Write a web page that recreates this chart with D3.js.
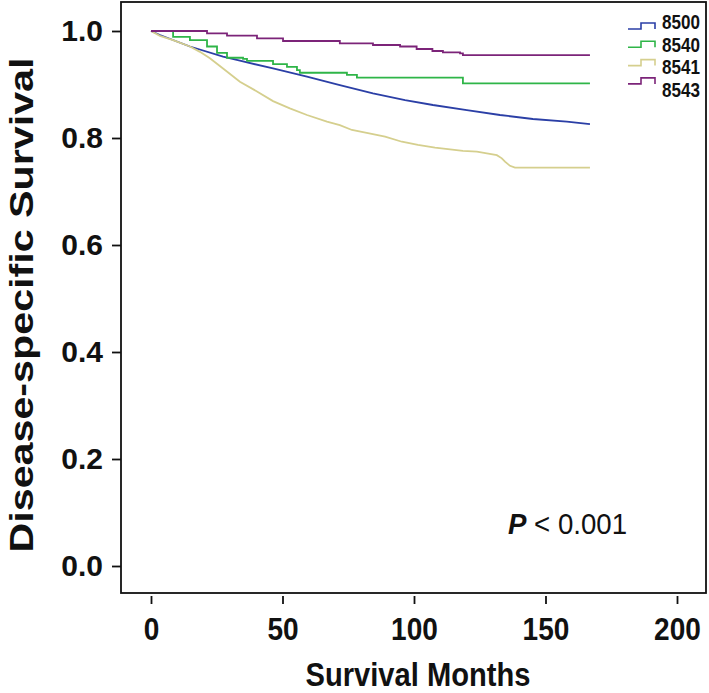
<!DOCTYPE html>
<html><head><meta charset="utf-8">
<script src="https://cdn.jsdelivr.net/npm/d3@7"></script>
<style>body{margin:0;background:#fff}svg{display:block}text{font-family:"Liberation Sans",Arial,sans-serif}</style>
</head><body>
<svg id="c" width="709" height="693"></svg>
<script>
// ---- data ----
const seriesNames = ["8500", "8540", "8541", "8543"];
const seriesColors = ["#2b3fa6", "#2fb548", "#d5cf8e", "#7c2479"];
const months8500 = [0, 3.4, 14.8, 27.4, 33.8, 46.4, 59.3, 71.8, 84.4, 96.6, 107.2, 120.1, 132.7, 145.2, 158.1, 166.9];
const surv8500   = [1.0, 0.9925, 0.971, 0.952, 0.9445, 0.930, 0.9146, 0.899, 0.8836, 0.871, 0.8617, 0.852, 0.843, 0.8355, 0.8305, 0.826];
const months8540 = [0, 8.4, 14.8, 21.3, 25.1, 28.9, 35.0, 36.5, 46.4, 51.7, 55.5, 56.6, 74.5, 78.3, 118.6, 166.9];
const surv8540   = [1.0, 0.989, 0.983, 0.971, 0.959, 0.950, 0.948, 0.944, 0.938, 0.933, 0.927, 0.922, 0.918, 0.913, 0.902, 0.902];
const months8541 = [0, 3.4, 8.4, 14.8, 18.6, 22.4, 27.4, 33.8, 40.3, 46.4, 52.8, 59.3, 66.9, 71.8, 76.4, 82.5, 89, 95.4, 101.5, 108, 118.6, 123.9, 127.7, 131.5, 133.4, 134.6, 136.5, 138.4, 166.9];
const surv8541   = [1.0, 0.991, 0.983, 0.971, 0.961, 0.949, 0.930, 0.905, 0.887, 0.869, 0.8555, 0.843, 0.8305, 0.824, 0.815, 0.809, 0.8025, 0.793, 0.787, 0.782, 0.776, 0.7744, 0.7714, 0.768, 0.762, 0.7557, 0.748, 0.7445, 0.7445];
const months8543 = [0, 21.3, 28.9, 40.3, 50.2, 71.8, 84.4, 94.7, 101, 107, 111, 117.5, 118.6, 166.9];
const surv8543   = [1.0, 0.9957, 0.9912, 0.9864, 0.9813, 0.977, 0.9738, 0.971, 0.9664, 0.9626, 0.960, 0.958, 0.955, 0.955];
const xTicks = [0, 50, 100, 150, 200];
const yTicks = [0.0, 0.2, 0.4, 0.6, 0.8, 1.0];
const xTitle = "Survival Months";
const yTitle = "Disease-specific Survival";

const series = [
  {name: seriesNames[0], m: months8500, s: surv8500, curve: d3.curveLinear},
  {name: seriesNames[1], m: months8540, s: surv8540, curve: d3.curveStepAfter},
  {name: seriesNames[2], m: months8541, s: surv8541, curve: d3.curveLinear},
  {name: seriesNames[3], m: months8543, s: surv8543, curve: d3.curveStepAfter}
];

const svg = d3.select("#c");
const x = d3.scaleLinear().domain([0, 200]).range([151, 677]);
const y = d3.scaleLinear().domain([0, 1]).range([566, 31]);

// box
svg.append("rect").attr("x", 121).attr("y", 2).attr("width", 585).attr("height", 591)
  .attr("fill", "none").attr("stroke", "#111").attr("stroke-width", 1.8);

// y axis
const ya = svg.append("g").attr("transform", "translate(121,0)")
  .call(d3.axisLeft(y).tickValues(yTicks).tickSize(9).tickPadding(9).tickFormat(d3.format(".1f")));
ya.select(".domain").remove();
ya.selectAll("line").attr("stroke", "#111").attr("stroke-width", 1.8);
ya.selectAll("text").attr("font-size", 30).attr("font-weight", "bold").attr("fill", "#111")
  .attr("font-family", "Liberation Sans, Arial, sans-serif");

// x axis
const xa = svg.append("g").attr("transform", "translate(0,596)")
  .call(d3.axisBottom(x).tickValues(xTicks).tickSize(8).tickPadding(14));
xa.select(".domain").remove();
xa.selectAll("line").attr("stroke", "#111").attr("stroke-width", 1.8);
xa.selectAll("text").attr("font-size", 31).attr("font-weight", "bold").attr("fill", "#111")
  .attr("font-family", "Liberation Sans, Arial, sans-serif")
  .attr("textLength", d => String(d).length * 15.6).attr("lengthAdjust", "spacingAndGlyphs");

// curves
series.forEach((sr, i) => {
  const pts = sr.m.map((m, j) => [m, sr.s[j]]);
  const line = d3.line().x(d => x(d[0])).y(d => y(d[1])).curve(sr.curve);
  svg.append("path").attr("d", line(pts)).attr("fill", "none")
    .attr("stroke", seriesColors[i]).attr("stroke-width", 1.8);
});

// legend
const lg = svg.append("g");
seriesNames.forEach((n, i) => {
  const yl = 29 + i * 18.3, yh = yl - 6;
  lg.append("path").attr("d", `M628,${yl}H641V${yh}H655V${yl}`)
    .attr("fill", "none").attr("stroke", seriesColors[i]).attr("stroke-width", 1.6);
  lg.append("text").attr("x", 662).attr("y", 22 + i * 22.5).attr("dy", "0.36em")
    .attr("font-size", 20).attr("font-weight", "bold").attr("fill", "#111")
    .attr("textLength", 38).attr("lengthAdjust", "spacingAndGlyphs").text(n);
});

// titles
svg.append("text").attr("x", 418).attr("y", 686).attr("text-anchor", "middle")
  .attr("font-size", 34).attr("font-weight", "bold").attr("fill", "#111")
  .attr("textLength", 225).attr("lengthAdjust", "spacingAndGlyphs").text(xTitle);
svg.append("text").attr("transform", "translate(33,305) rotate(-90)").attr("text-anchor", "middle")
  .attr("font-size", 34).attr("font-weight", "bold").attr("fill", "#111")
  .attr("textLength", 495).attr("lengthAdjust", "spacingAndGlyphs").text(yTitle);

// p-value
const pt = svg.append("text").attr("x", 508).attr("y", 534).attr("font-size", 30).attr("fill", "#111")
  .attr("textLength", 119).attr("lengthAdjust", "spacingAndGlyphs");
pt.append("tspan").attr("font-weight", "bold").attr("font-style", "italic").text("P");
pt.append("tspan").text(" < 0.001");
</script>
</body></html>
